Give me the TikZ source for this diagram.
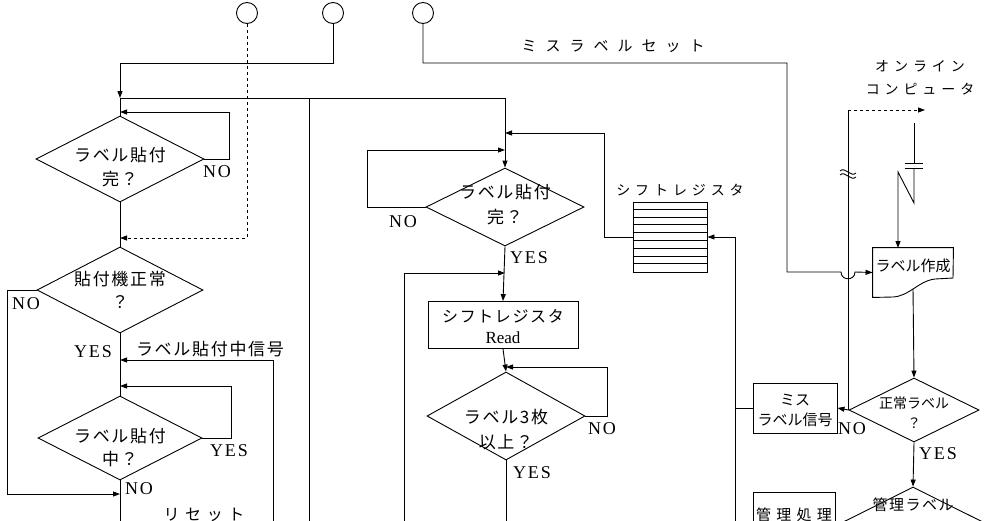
\documentclass[tikz,border=0pt]{standalone}
\usepackage{fontspec}
\setmainfont{Liberation Serif}
\newfontfamily\jp{Noto Sans CJK JP}
\newfontfamily\jpa[LetterSpace=10]{Noto Sans CJK JP}
\newfontfamily\jpb[LetterSpace=35]{Noto Sans CJK JP}
\newfontfamily\jpc[LetterSpace=60]{Noto Sans CJK JP}
\newfontfamily\lat[LetterSpace=10]{Liberation Serif}
\usetikzlibrary{arrows.meta,shapes.geometric,positioning,calc}

\begin{document}
\begin{tikzpicture}[x=1pt,y=-1pt,line width=0.9pt,
  >={Triangle[length=7pt,width=5pt]},
  term/.style={circle,draw,minimum size=21pt,inner sep=0pt},
  dec/.style={diamond,draw,inner sep=0pt},
  proc/.style={rectangle,draw,inner sep=0pt},
  dtext/.style={font=\jpa\fontsize{17}{24}\selectfont,align=center,inner sep=0pt},
  yn/.style={font=\lat\fontsize{18}{20}\selectfont,inner sep=0pt},
  tag/.style={font=\jpb\fontsize{14}{23}\selectfont,align=center,inner sep=0pt}]
  \useasboundingbox (0,0) rectangle (987,520);

  % connectors at the top
  \node[term] (c1) at (247,13) {};
  \node[term] (c2) at (333,13) {};
  \node[term] (c3) at (423,13) {};

  % left flow
  \node[dec,minimum width=168pt,minimum height=86pt,
    label={[dtext,yshift=-8pt]center:{ラベル貼付\\完？}}] (d1) at (120,159) {};
  \node[dec,minimum width=166pt,minimum height=86pt,
    label={[dtext,font=\jpa\fontsize{17}{23}\selectfont]center:{貼付機正常\\？}}] (d2) at (120,290) {};
  \node[dec,minimum width=164pt,minimum height=84pt,
    label={[dtext,yshift=-10pt,font=\jpa\fontsize{17}{23}\selectfont]center:{ラベル貼付\\中？}}] (d3) at (120,438) {};

  % middle flow
  \node[dec,minimum width=158pt,minimum height=78pt,
    label={[dtext,yshift=2pt,font=\jpa\fontsize{17}{25}\selectfont]center:{ラベル貼付\\完？}}] (d4) at (505,207) {};
  \node[proc,minimum width=150pt,minimum height=47pt,
    label={[dtext,yshift=-2pt,font=\jpa\fontsize{16}{21}\selectfont]center:{シフトレジスタ\\{\rmfamily\fontsize{17}{21}\selectfont Read}}}] (rd) at (503,325) {};
  \node[dec,minimum width=158pt,minimum height=88pt,
    label={[dtext,yshift=-14pt,font=\jpa\fontsize{17}{25}\selectfont]center:{ラベル3枚\\以上？}}] (d5) at (506,416) {};

  % shift register
  \node[proc,minimum width=74pt,minimum height=70pt] (sr) at (670,237) {};
  \foreach \k in {1,...,8}
    \draw ($(sr.north west)+(0,7.78*\k)$) -- ($(sr.north east)+(0,7.78*\k)$);
  \node[tag] (srl) at (680,190) {シフトレジスタ};

  \coordinate (k1) at (120,63);
  \coordinate (t1) at (120,98);
  \coordinate (t2) at (505,98);
  \coordinate (l1) at (120,112);
  \coordinate (j1) at (120,238);
  \coordinate (j2) at (120,360);
  \coordinate (l3) at (120,386);
  \coordinate (j3) at (120,494);
  \coordinate (d3e) at (120,530);
  \coordinate (b1) at (309,98);
  \coordinate (b2) at (309,530);
  \coordinate (s1) at (273,530);

  \draw[dashed,->] (c1.south) |- (j1);
  \draw[->] (c2.south) |- (k1) -- (t1);
  \draw[->] (t1) -- (t2) -- (d4.north);
  \draw (t1) -- (d1.north);
  \draw (b1) -- (b2);
  \draw[->] (d1.east) -- ++(25,0) |- (l1);
  \draw (d1.south) -- (d2.north);
  \draw[->] (d2.west) -- ++(-29,0) |- (j3);
  \draw (d2.south) -- (d3.north);
  \draw[->] (s1) |- (j2);
  \draw[->] (d3.east) -- ++(29,0) |- (l3);
  \draw (d3.south) -- (d3e);

  \node[yn] (no1) at (217,172) {NO};
  \node[yn] (no2) at (26,304) {NO};
  \node[yn] (yes2) at (93,352) {YES};
  \node[yn] (yes3) at (229,451) {YES};
  \node[yn] (no3) at (139,489) {NO};
  \node[tag,font=\jpa\fontsize{17}{20}\selectfont] (sig) at (210,349) {ラベル貼付中信号};
  \node[tag,font=\jpb\fontsize{16}{20}\selectfont] (rst) at (204,515) {リセット};

  \coordinate (m1) at (505,133);
  \coordinate (m2) at (505,150);
  \coordinate (m3) at (505,273);
  \coordinate (m4) at (506,367);
  \coordinate (r1) at (404,530);
  \coordinate (d5e) at (506,530);

  \draw[->] (sr.west) -- ++(-28,0) |- (m1);
  \draw[->] (d4.west) -- ++(-58,0) |- (m2);
  \draw[->] (d4.south) -- (rd.north);
  \draw[->] (r1) |- (m3);
  \draw[->] (rd.south) -- (d5.north);
  \draw[->] (d5.east) -- ++(22,0) |- (m4);
  \draw (d5.south) -- (d5e);

  \node[yn] (no4) at (403,222) {NO};
  \node[yn] (yes4) at (529,258) {YES};
  \node[yn] (no5) at (602,429) {NO};
  \node[yn] (yes5) at (532,473) {YES};

  \coordinate (i1) at (735,530);
  \draw[->] (i1) |- (sr.east);

  % miss label set
  \coordinate (k3) at (787,63);
  \coordinate (k4) at (787,272);
  \coordinate (h1) at (841,272);
  \coordinate (h2) at (855,272);
  \node[tag,font=\jpc\fontsize{15}{20}\selectfont] (msl) at (613,46) {ミスラベルセット};

  % label printing
  \node[minimum width=80pt,minimum height=49pt,inner sep=0pt,
    label={[font=\jp\fontsize{15}{16}\selectfont,yshift=7pt]center:ラベル作成}] (doc) at (913,272.5) {};
  \draw (doc.north west) -- (doc.north east) -- (953,278) -- (935,279)
    .. controls (918,281) and (910,296) .. (893,297) -- (doc.south west) -- cycle;
  \draw[->] (c3.south) |- (k3) -- (k4) -- (h1)
    .. controls (841,281) and (855,281) .. (h2) -- (doc.west);

  \node[tag,font=\jpb\fontsize{14}{23}\selectfont] (olc) at (920,78) {オンライン\\コンピュータ};
  \coordinate (ob) at (848,110);
  \coordinate (oc) at (925,110);
  \coordinate (ol1) at (914,123);
  \coordinate (ol2) at (914,163);
  \coordinate (ol3) at (914,168);
  \coordinate (ol4) at (914,203);
  \coordinate (ol5) at (898,172);
  \coordinate (ol6) at (898,248);
  \coordinate (docb) at (913,289);

  \node[dec,minimum width=130pt,minimum height=64pt,
    label={[dtext,yshift=-3pt,font=\jp\fontsize{14}{20}\selectfont]center:{正常ラベル\\？}}] (d6) at (914,410) {};
  \node[proc,minimum width=84pt,minimum height=50pt,
    label={[dtext,yshift=-2pt,font=\jp\fontsize{15}{20}\selectfont]center:{ミス\\ラベル信号}}] (mis) at (795,408) {};
  \node[proc,minimum width=82pt,minimum height=56pt,
    label={[dtext,yshift=5pt,font=\jpb\fontsize{15}{20}\selectfont]center:{管理処理}}] (kan) at (794,520) {};
  \node[dec,minimum width=164pt,minimum height=82pt,
    label={[dtext,yshift=12pt,font=\jpa\fontsize{15}{24}\selectfont]center:{管理ラベル\\？}}] (d7) at (913,528) {};

  \draw[dashed,->] (ob) -- (oc);
  \draw (ob) -- (ob |- d6.west);
  \draw (840,171) .. controls (845,166) and (851,178) .. (856,173);
  \draw (840,175) .. controls (845,170) and (851,182) .. (856,177);
  \draw (ol1) -- (ol2);
  \draw (905,163) -- (923,163) (905,168) -- (923,168);
  \draw[->] (ol3) -- (ol4) -- (ol5) -- (ol6);
  \draw[->] (docb) -- (d6.north);
  \draw[->] (d6.west) -- (mis.east);
  \draw (mis.west) -- (mis.west -| i1);
  \draw[->] (d6.south) -- (d7.north);

  \node[yn] (no6) at (852,429) {NO};
  \node[yn] (yes6) at (938,454) {YES};
\end{tikzpicture}
\end{document}
